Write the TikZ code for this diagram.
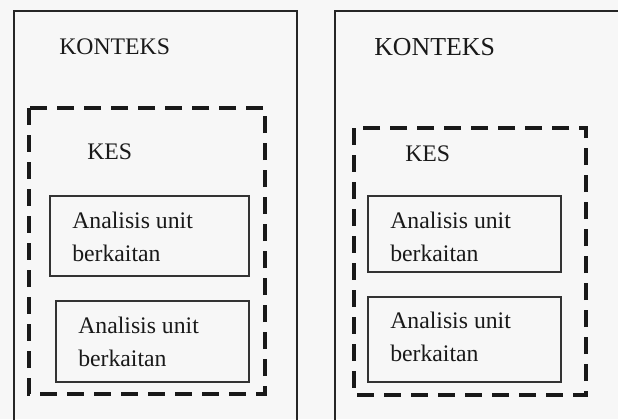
\documentclass[tikz,border=0pt]{standalone}
\usepackage{fontspec}
\setmainfont{Liberation Serif}
\begin{document}
\begin{tikzpicture}[x=0.75pt,y=-0.75pt,
  outer/.style={line width=1.9pt,draw=black!85},
  dashbox/.style={line width=2.5pt,draw=black!90,dash pattern=on 12.75pt off 7.5pt},
  unitbox/.style={line width=1.1pt,draw=black!80},
  lbl/.style={anchor=base west,inner sep=0pt,font=\fontsize{17.8}{22}\selectfont,text=black!90},
  biglbl/.style={anchor=base west,inner sep=0pt,font=\fontsize{19.4}{23}\selectfont,text=black!90}]
\useasboundingbox (0,0) rectangle (618,419);
\clip (0,0) rectangle (618,419);
\fill[black!3] (0,0) rectangle (618,419);
% outer frames
\draw[outer] (14,430) -- (14,11) -- (297,11) -- (297,430);
\draw[outer] (335,430) -- (335,11) -- (630,11);
% dashed KES boxes
\draw[dashbox] (29,108) rectangle (265,394);
\draw[dashbox] (354,128) rectangle (586,395);
% unit boxes
\draw[unitbox] (50,196) rectangle (249,276);
\draw[unitbox] (56,301) rectangle (249,382);
\draw[unitbox] (368,196) rectangle (561,272);
\draw[unitbox] (368,297) rectangle (561,382);
% labels
\node[lbl] (k1) at (59,54) {KONTEKS};
\node[biglbl] (k2) at (374,55.5) {KONTEKS};
\node[lbl] (s1) at (87,159) {KES};
\node[lbl] (s2) at (405,161) {KES};
\node[lbl] (a1) at (72,228) {Analisis unit};
\node[lbl] (a1b) at (72,261) {berkaitan};
\node[lbl] (a2) at (78,333) {Analisis unit};
\node[lbl] (a2b) at (78,366) {berkaitan};
\node[lbl] (a3) at (390,228) {Analisis unit};
\node[lbl] (a3b) at (390,261) {berkaitan};
\node[lbl] (a4) at (390,328) {Analisis unit};
\node[lbl] (a4b) at (390,361) {berkaitan};
\end{tikzpicture}
\end{document}
